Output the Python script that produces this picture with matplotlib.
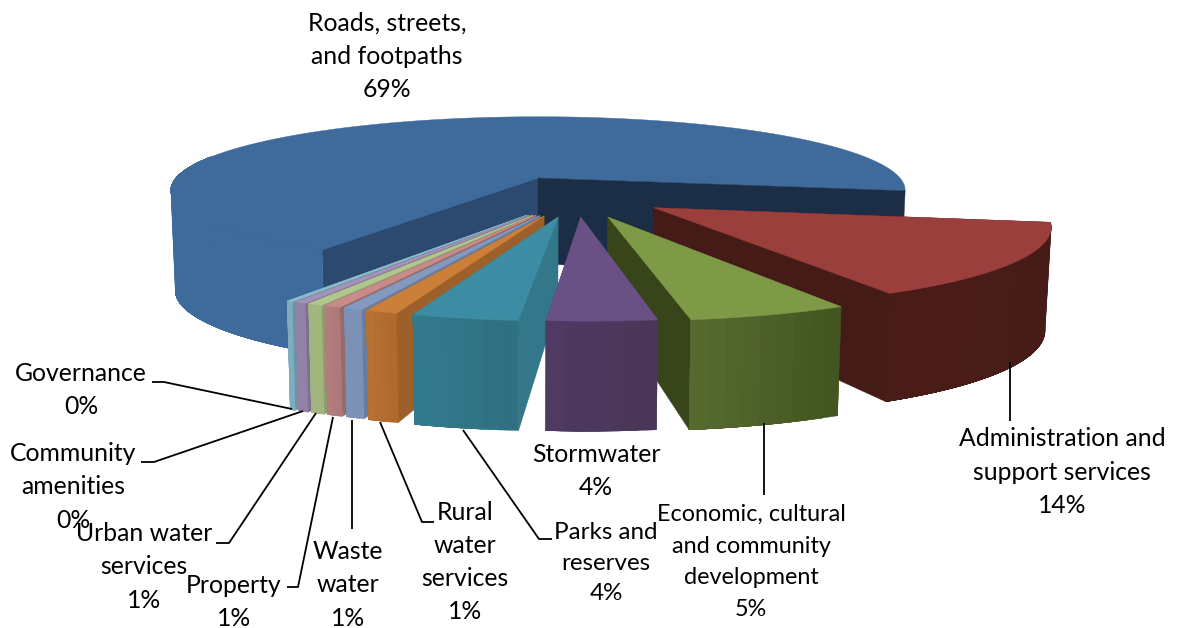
import numpy as np
import matplotlib
matplotlib.use("Agg")
import matplotlib.pyplot as plt
from matplotlib.colors import to_rgb

# Expenditure shares, in the order the slices run clockwise from the start angle
categories = ["Administration and\nsupport services", "Economic, cultural\nand community\ndevelopment",
              "Stormwater", "Parks and\nreserves", "Rural\nwater\nservices", "Waste\nwater", "Property",
              "Urban water\nservices", "Community\namenities", "Governance", "Roads, streets,\nand footpaths"]
values = [14.49, 5.49, 3.70, 3.60, 1.10, 0.66, 0.58, 0.52, 0.40, 0.21, 69.25]

# How far each slice is pulled out, and in which ground direction (degrees clockwise from the back)
explode_dist = [0.489, 0.530, 0.512, 0.5025, 0.488, 0.482, 0.480, 0.479, 0.478, 0.477, 0.0]
explode_dir = [142.4, 160.5, 167.8, 174.2, 178.2, 179.4, 180.6, 181.5, 182.4, 183.3, 0.0]

top_colors = ["#9B3F3D", "#7E9A46", "#6A5185", "#3C8DA3", "#CC7F38", "#8399C0", "#C98B8A", "#B0C68F",
              "#A493B9", "#8CBDCF", "#3F6A9C"]
wall_left = ["#4A1C18", "#56692F", "#4E3A62", "#33798C", "#B87033", "#7B91B5", "#B47D7D", "#A3B57F",
             "#9282A8", "#7FADC0", "#3F6A9C"]
wall_right = ["#451B17", "#435520", "#4A3658", "#2F7082", "#B06A2E", "#7B91B5", "#B07979", "#A3B57F",
              "#9282A8", "#7FADC0", "#3F6A9C"]
side_colors = ["#451B17", "#384419", "#4E3A60", "#33788A", "#9E602A", "#687C9E", "#96696A", "#8C9C6C",
               "#7D6F91", "#6B94A5", "#1B2E45"]
roads_far_cut = "#2C4A70"

START_ANGLE = 100.0
CX, CY = 538.0, 178.0       # pie hub on screen
F, G, K = 362.0, 71.5, 0.167  # ground plane projection
H0, K2 = 98.85, 0.0676      # wall height and its growth towards the viewer
HUB_DROP = 0.86             # the hub edge of each slice is shorter than its rim
BASE_SHRINK = 0.988         # lower rim pulls slightly towards the centre line


def project(x, y, lower=False, hub=False):
    x, y = np.asarray(x, float), np.asarray(y, float)
    den = 1 - K * y
    sx = F * x / den
    sy = CY + G * y / den
    if lower:
        h = H0 / (1 - K2 * y)
        sy = sy + h * (HUB_DROP if hub else 1.0)
        sx = sx * BASE_SHRINK
    return CX + sx, sy


def rim(theta, ox, oy):
    t = np.radians(theta)
    return ox + np.sin(t), oy - np.cos(t)


def draw_slice(ax, t0, t1, ox, oy, top, wl, wr, side, far_side=None, wall_span=None):
    far_side = far_side or side
    hub_top = project(ox, oy)
    hub_low = project(ox, oy, lower=True, hub=True)
    # cut faces first; the wall and top surface hide whichever one faces away
    for theta, col in ((t0, far_side), (t1, side)):
        rx, ry = rim(theta, ox, oy)
        a, b = project(rx, ry), project(rx, ry, lower=True)
        ax.fill([hub_top[0], a[0], b[0], hub_low[0]], [hub_top[1], a[1], b[1], hub_low[1]],
                color=col, lw=0.3, zorder=ax.order)
        ax.order += 1
    # outer wall: each band runs to the far end and the next one paints over it,
    # so the shade drifts across the face without seams
    w0, w1 = wall_span or (t0, t1)
    edges = np.linspace(w0, w1, max(int((w1 - w0) / 2), 4) + 1)
    fine = np.linspace(w0, w1, int(w1 - w0) * 2 + 3)
    cl, cr = np.array(to_rgb(wl)), np.array(to_rgb(wr))
    for i in range(len(edges) - 1):
        arc = np.r_[edges[i], fine[fine > edges[i]]]
        rx, ry = rim(arc, ox, oy)
        a, b = project(rx, ry), project(rx, ry, lower=True)
        frac = i / max(len(edges) - 2, 1)
        # slices are walked clockwise, which is right-to-left across the front
        col = cr * (1 - frac) + cl * frac
        ax.fill(np.r_[a[0], b[0][::-1]], np.r_[a[1], b[1][::-1]], color=tuple(col), lw=0.3, zorder=ax.order)
        ax.order += 1
    # top surface
    th = np.linspace(t0, t1, max(int(t1 - t0), 3) + 1)
    rx, ry = rim(th, ox, oy)
    sx, sy = project(rx, ry)
    ax.fill(np.r_[hub_top[0], sx], np.r_[hub_top[1], sy], color=top, lw=0.3, zorder=ax.order)
    ax.order += 1


fig = plt.figure(figsize=(11.77, 6.28), dpi=100)
ax = fig.add_axes([0, 0, 1, 1])
ax.set_xlim(0, 1177)
ax.set_ylim(628, 0)
ax.axis("off")
ax.order = 2

sweeps = np.array(values) / sum(values) * 360
bounds = START_ANGLE + np.r_[0, np.cumsum(sweeps)]
mids = (bounds[:-1] + bounds[1:]) / 2

# The large slice sits at the back, then the rest from the outside in
rest = sorted(range(len(values) - 1), key=lambda i: -abs(mids[i] - 180))
big = len(values) - 1

rx, ry = rim(bounds[big + 1], 0.0, 0.0)
a, b = project(rx, ry), project(rx, ry, lower=True)
hub_t, hub_b = project(0.0, 0.0), project(0.0, 0.0, lower=True, hub=True)
# visible wall and front cut of the large slice
draw_slice(ax, bounds[big], bounds[big] + sweeps[big] * 0.31, 0.0, 0.0, top_colors[big], wall_left[big],
           wall_right[big], roads_far_cut, far_side=roads_far_cut)
th = np.linspace(bounds[big], bounds[big + 1], 200)
rx, ry = rim(th, 0.0, 0.0)
sx, sy = project(rx, ry)
ax.fill(np.r_[hub_t[0], sx], np.r_[hub_t[1], sy], color=top_colors[big], lw=0.3, zorder=ax.order)
ax.order += 1
# the cut at the back right is the darkest face
ax.fill([hub_t[0], a[0], b[0], hub_b[0]], [hub_t[1], a[1], b[1], hub_b[1]], color=side_colors[big],
        lw=0.3, zorder=ax.order)
ax.order += 1

for i in rest:
    d = np.radians(explode_dir[i])
    ox, oy = explode_dist[i] * np.sin(d), -explode_dist[i] * np.cos(d)
    draw_slice(ax, bounds[i], bounds[i + 1], ox, oy, top_colors[i], wall_left[i], wall_right[i], side_colors[i])

# Label centres, sizes and leader polylines, in the same order as the categories
label_xy = [(1062, 472), (751, 562), (596, 471), (606, 563), (465, 562), (348, 585), (234, 602),
            (144, 567), (73, 487), (81, 390), (387, 56)]
label_size = [17.8, 16.8, 17.8, 17.4, 17.8, 17.8, 17.8, 17.8, 17.8, 17.8, 17.8]
label_spacing = [1.54, 1.63, 1.54, 1.58, 1.54, 1.54, 1.54, 1.54, 1.54, 1.54, 1.54]
leaders = [
    [(1010, 362), (1010, 421)],
    [(764, 423), (764, 495)],
    None,
    [(463, 430), (539, 539), (552, 539)],
    [(380, 422), (422, 522), (434, 522)],
    [(352, 420), (352, 529)],
    [(333, 417), (298, 587), (287, 587)],
    [(316, 413), (229, 543), (216, 543)],
    [(303, 411), (154, 462), (141, 462)],
    [(292, 409), (164, 382), (152, 382)],
    None,
]

for name, val, (tx, ty), fs, sp, path in zip(categories, values, label_xy, label_size, label_spacing, leaders):
    ax.text(tx, ty, f"{name}\n{round(val)}%", ha="center", va="center", family="Lato",
            fontsize=fs, linespacing=sp, color="black", zorder=1500)
    if path:
        xs, ys = zip(*path)
        ax.plot(xs, ys, color="black", lw=1.3, zorder=1400, solid_capstyle="butt")

fig.savefig("out.png", dpi=100)
